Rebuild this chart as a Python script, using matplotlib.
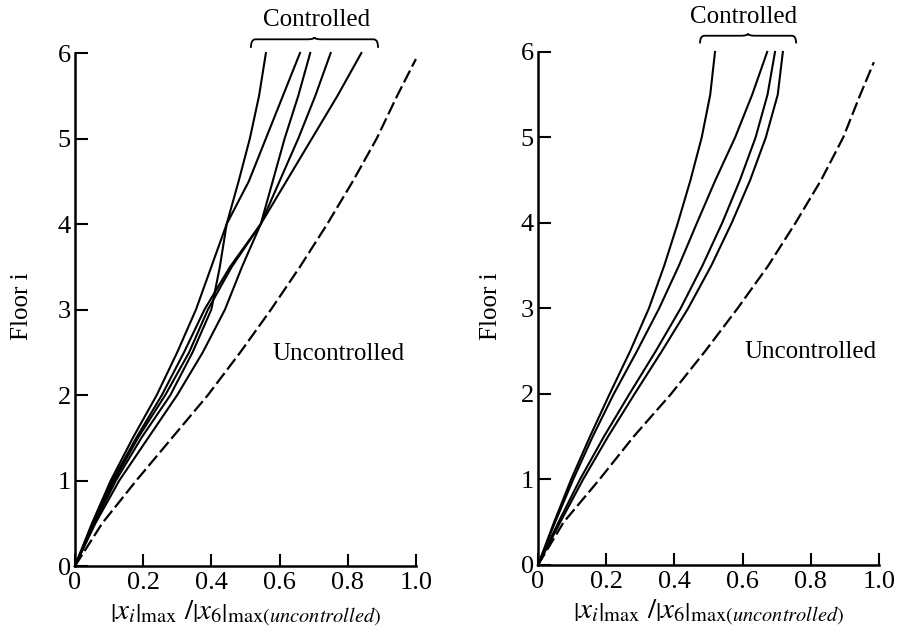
import matplotlib
matplotlib.use('Agg')
import matplotlib.pyplot as plt
from matplotlib.path import Path
from matplotlib.patches import PathPatch

plt.rcParams['font.family'] = 'serif'
plt.rcParams['font.serif'] = ['Liberation Serif', 'DejaVu Serif']
plt.rcParams['mathtext.fontset'] = 'stix'

# floor levels at which the response ratios were read
floors = [0, 0.5, 1, 1.5, 2, 2.5, 3, 3.5, 4, 4.5, 5, 5.5, 6]

# left panel: controlled responses
left_a = [0, 0.05, 0.105, 0.17, 0.24, 0.30, 0.355, 0.40, 0.445, 0.48, 0.513, 0.54, 0.56]
left_b = [0, 0.057, 0.12, 0.195, 0.28, 0.345, 0.40, 0.425, 0.445, 0.51, 0.56, 0.61, 0.66]
left_c = [0, 0.052, 0.11, 0.18, 0.255, 0.32, 0.38, 0.455, 0.545, 0.58, 0.615, 0.655, 0.69]
left_d = [0, 0.055, 0.115, 0.185, 0.265, 0.335, 0.39, 0.46, 0.545, 0.60, 0.655, 0.705, 0.75]
left_e = [0, 0.06, 0.13, 0.215, 0.30, 0.375, 0.44, 0.49, 0.545, 0.62, 0.695, 0.77, 0.84]
# left panel: uncontrolled
left_unc_floors = [0, 0.5, 1, 1.5, 2, 2.5, 3, 3.5, 4, 4.5, 5, 5.5, 5.93]
left_unc = [0, 0.08, 0.18, 0.285, 0.39, 0.485, 0.575, 0.66, 0.74, 0.815, 0.885, 0.945, 1.0]

# right panel: controlled responses
right_a = [0, 0.047, 0.097, 0.152, 0.21, 0.27, 0.325, 0.37, 0.41, 0.447, 0.48, 0.505, 0.519]
right_b = [0, 0.05, 0.103, 0.16, 0.222, 0.29, 0.355, 0.413, 0.466, 0.52, 0.578, 0.628, 0.672]
right_c = [0, 0.06, 0.123, 0.193, 0.268, 0.345, 0.418, 0.482, 0.54, 0.592, 0.638, 0.673, 0.695]
right_d = [0, 0.065, 0.132, 0.205, 0.283, 0.363, 0.44, 0.508, 0.568, 0.622, 0.668, 0.703, 0.718]
# right panel: uncontrolled
right_unc_floors = [0, 0.5, 1, 1.5, 2, 2.5, 3, 3.5, 4, 4.5, 5, 5.5, 5.88]
right_unc = [0, 0.075, 0.18, 0.28, 0.39, 0.49, 0.585, 0.675, 0.755, 0.83, 0.895, 0.945, 0.985]

xticks = [0, 0.2, 0.4, 0.6, 0.8, 1.0]
xticklabels = ['0', '0.2', '0.4', '0.6', '0.8', '1.0']
yticks = [0, 1, 2, 3, 4, 5, 6]

xlabel = (r'$\left|x_i\right|_{\mathrm{max}}\ /\left|x_6\right|'
          r'_{\mathrm{max}(\mathit{uncontrolled})}$')


def brace(ax, x0, x1, y, h, r=0.013, rm=0.02, p=0.025):
    # horizontal curly brace, tips pointing down
    xm = 0.5 * (x0 + x1)
    verts = [(x0, y - h), (x0, y), (x0 + r, y), (xm - rm, y), (xm, y),
             (xm, y + p), (xm, y), (xm + rm, y), (x1 - r, y), (x1, y), (x1, y - h)]
    codes = [Path.MOVETO, Path.CURVE3, Path.CURVE3, Path.LINETO, Path.CURVE3,
             Path.CURVE3, Path.CURVE3, Path.CURVE3, Path.LINETO, Path.CURVE3,
             Path.CURVE3]
    ax.add_patch(PathPatch(Path(verts, codes), fill=False, lw=1.3,
                           color='black', clip_on=False))


def style_axes(ax):
    ax.set_xlim(0, 1.0)
    ax.set_ylim(0, 6)
    ax.spines['top'].set_visible(False)
    ax.spines['right'].set_visible(False)
    ax.spines['left'].set_linewidth(1.8)
    ax.spines['bottom'].set_linewidth(1.8)
    ax.set_xticks(xticks)
    ax.set_xticklabels(xticklabels)
    ax.set_yticks(yticks)
    ax.tick_params(direction='in', length=9, width=1.5, labelsize=19)
    ax.tick_params(axis='x', pad=4)
    ax.tick_params(axis='y', pad=3)
    ax.set_xlabel(xlabel, fontsize=21, labelpad=4)


fig = plt.figure(figsize=(9.02, 6.44), dpi=100)
ax1 = fig.add_axes([0.0831, 0.1211, 0.378, 0.7966])
ax2 = fig.add_axes([0.5965, 0.1227, 0.378, 0.7966])

for xs in [left_a, left_b, left_c, left_d, left_e]:
    ax1.plot(xs, floors, color='black', lw=1.5, clip_on=False)
ax1.plot(left_unc, left_unc_floors, color='black', lw=1.6, dashes=(6, 2),
         clip_on=False)

for xs in [right_a, right_b, right_c, right_d]:
    ax2.plot(xs, floors, color='black', lw=1.5, clip_on=False)
ax2.plot(right_unc, right_unc_floors, color='black', lw=1.6, dashes=(6, 2),
         clip_on=False)

for ax in (ax1, ax2):
    style_axes(ax)

brace(ax1, 0.516, 0.889, 6.16, 0.1)
ax1.text(0.71, 6.39, 'Controlled', fontsize=18, ha='center', va='center')
ax1.text(0.774, 2.48, 'Uncontrolled', fontsize=18, ha='center', va='center')

brace(ax2, 0.475, 0.757, 6.19, 0.09)
ax2.text(0.604, 6.41, 'Controlled', fontsize=18, ha='center', va='center')
ax2.text(0.80, 2.49, 'Uncontrolled', fontsize=18, ha='center', va='center')

fig.text(22 / 902, 1 - 306 / 644, 'Floor i', rotation=90, fontsize=18,
         ha='center', va='center')
fig.text(491 / 902, 1 - 306 / 644, 'Floor i', rotation=90, fontsize=18,
         ha='center', va='center')

plt.savefig('out.png', dpi=100)
plt.close()
